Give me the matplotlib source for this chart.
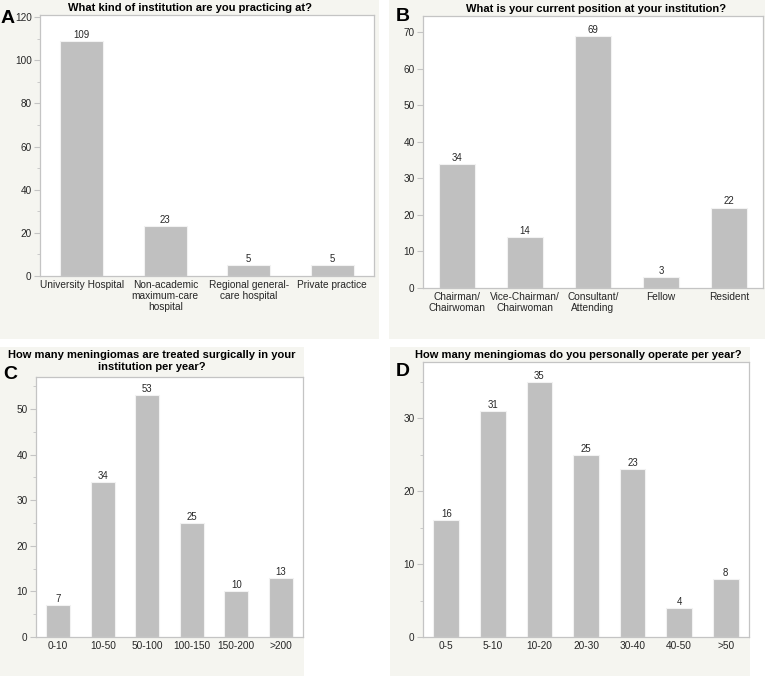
import numpy as np
import matplotlib

matplotlib.use("Agg")
import matplotlib.pyplot as plt
from matplotlib.patches import Rectangle

plt.rcParams["font.family"] = ["Liberation Sans", "DejaVu Sans"]

# panel A
inst_labels = ["University Hospital", "Non-academic\nmaximum-care\nhospital",
               "Regional general-\ncare hospital", "Private practice"]
inst_counts = [109, 23, 5, 5]

# panel B
pos_labels = ["Chairman/\nChairwoman", "Vice-Chairman/\nChairwoman",
              "Consultant/\nAttending", "Fellow", "Resident"]
pos_counts = [34, 14, 69, 3, 22]

# panel C
inst_vol_labels = ["0-10", "10-50", "50-100", "100-150", "150-200", ">200"]
inst_vol_counts = [7, 34, 53, 25, 10, 13]

# panel D
pers_vol_labels = ["0-5", "5-10", "10-20", "20-30", "30-40", "40-50", ">50"]
pers_vol_counts = [16, 31, 35, 25, 23, 4, 8]

W, H = 765, 678
BG = "#f5f5f0"
BAR = "#c0c0c0"
SPINE = "#c4c4c4"
TXT = "#262626"

fig = plt.figure(figsize=(W / 100, H / 100), dpi=100)
fig.patch.set_facecolor("white")


def px_rect(x0, y0, x1, y1):
    return [x0 / W, 1 - y1 / H, (x1 - x0) / W, (y1 - y0) / H]


def panel_bg(x0, y0, x1, y1):
    fig.patches.append(Rectangle((x0 / W, 1 - y1 / H), (x1 - x0) / W, (y1 - y0) / H,
                                 transform=fig.transFigure, facecolor=BG,
                                 edgecolor="none", zorder=-10))


def bar_panel(box, labels, counts, ymax, major, minor, width=0.54):
    ax = fig.add_axes(px_rect(*box))
    x = np.arange(len(labels))
    ax.bar(x, counts, width=width, color=BAR, edgecolor="#f2f2f2", linewidth=0.8)
    for xi, c in zip(x, counts):
        ax.text(xi, c + ymax * 0.004, str(c), ha="center", va="bottom",
                fontsize=6.9, color=TXT)
    ax.set_xlim(-0.5, len(labels) - 0.5)
    ax.set_ylim(0, ymax)
    ax.set_xticks(x)
    ax.set_xticklabels(labels, fontsize=7.3, color=TXT, linespacing=1.1)
    ax.set_yticks(np.arange(0, ymax, major))
    ax.set_yticks(np.arange(0, ymax, minor), minor=True)
    ax.tick_params(axis="y", labelsize=7.2, labelcolor=TXT, color=SPINE,
                   length=4, width=0.8, pad=2)
    ax.tick_params(axis="y", which="minor", length=2, color=SPINE)
    ax.tick_params(axis="x", length=0, pad=3)
    for s in ax.spines.values():
        s.set_color(SPINE)
        s.set_linewidth(0.9)
    ax.set_facecolor("white")
    return ax


# backgrounds
panel_bg(0, 0, 379, 339)
panel_bg(389, 0, 765, 339)
panel_bg(0, 347, 304, 676)
panel_bg(390, 347, 750, 676)

# A
bar_panel((40, 15, 374, 276), inst_labels, inst_counts, 121, 20, 10, width=0.52)
fig.text(190 / W, 1 - 8 / H, "What kind of institution are you practicing at?",
         ha="center", va="center", fontsize=8.0, fontweight="bold")
fig.text(0.5 / W, 1 - 23 / H, "A", ha="left", va="baseline", fontsize=14, fontweight="bold")

# B
bar_panel((423, 16, 763, 288), pos_labels, pos_counts, 74.4, 10, 10, width=0.53)
fig.text(596 / W, 1 - 9 / H, "What is your current position at your institution?",
         ha="center", va="center", fontsize=8.0, fontweight="bold")
fig.text(396 / W, 1 - 21 / H, "B", ha="left", va="baseline", fontsize=14, fontweight="bold")

# C (two title lines drawn separately)
bar_panel((36, 377, 303, 637), inst_vol_labels, inst_vol_counts, 57, 10, 5, width=0.53)
fig.text(152 / W, 1 - 355 / H, "How many meningiomas are treated surgically in your",
         ha="center", va="center", fontsize=8.0, fontweight="bold")
fig.text(152 / W, 1 - 367 / H, "institution per year?",
         ha="center", va="center", fontsize=8.0, fontweight="bold")
fig.text(3 / W, 1 - 379 / H, "C", ha="left", va="baseline", fontsize=14, fontweight="bold")

# D
bar_panel((423, 362, 749, 637), pers_vol_labels, pers_vol_counts, 37.7, 10, 5, width=0.55)
fig.text(578 / W, 1 - 355 / H, "How many meningiomas do you personally operate per year?",
         ha="center", va="center", fontsize=8.0, fontweight="bold")
fig.text(396 / W, 1 - 376 / H, "D", ha="left", va="baseline", fontsize=14, fontweight="bold")

fig.savefig("out.png", dpi=100, facecolor=fig.get_facecolor())
